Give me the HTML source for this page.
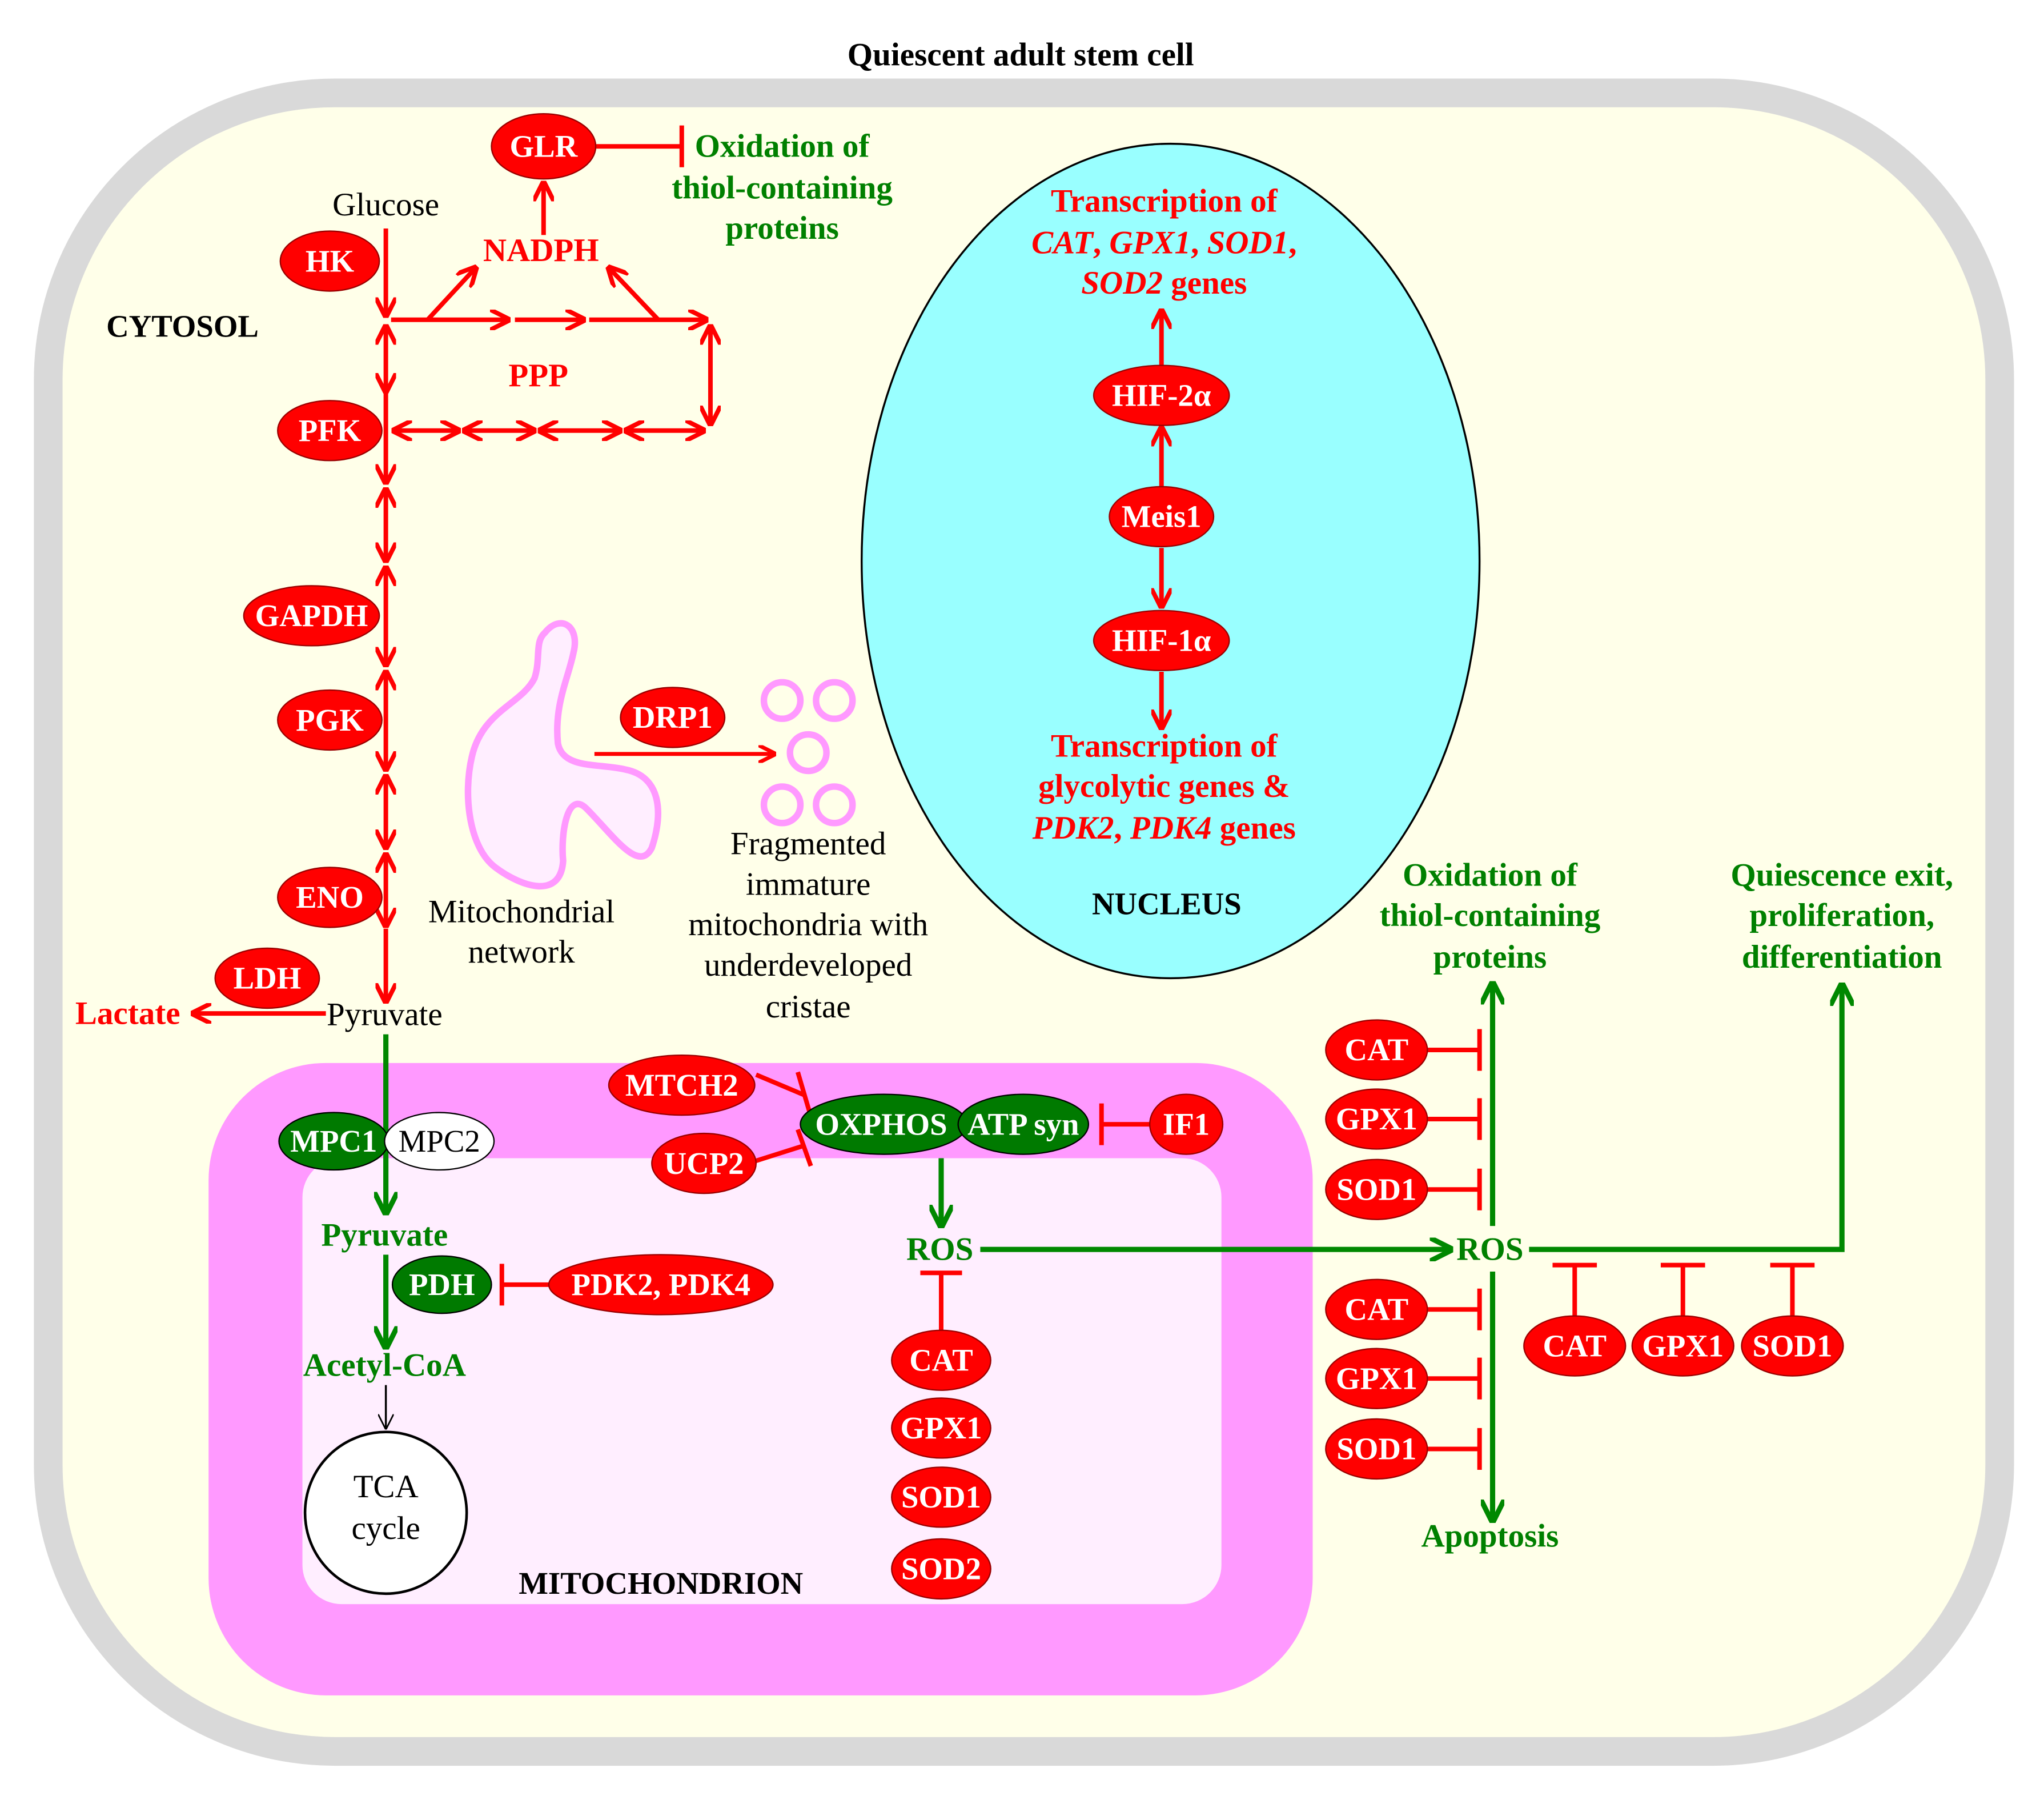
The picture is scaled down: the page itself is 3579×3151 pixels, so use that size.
<!DOCTYPE html>
<html><head><meta charset="utf-8"><style>html,body{margin:0;padding:0;background:#fff}svg{display:block}svg text{font-family:"Liberation Serif","DejaVu Serif",serif}</style></head><body>
<svg width="3579" height="3151" viewBox="0 0 1568 1380" xmlns="http://www.w3.org/2000/svg">
<defs>
<marker id="ar" viewBox="0 0 10 10" refX="9" refY="5" markerWidth="4.5" markerHeight="4.5" orient="auto-start-reverse"><path d="M0,0 L10,5 L0,10" fill="none" stroke="#f00" stroke-width="2.2"/></marker>
<marker id="ag" viewBox="0 0 10 10" refX="9" refY="5" markerWidth="4.5" markerHeight="4.5" orient="auto-start-reverse"><path d="M0,0 L10,5 L0,10" fill="none" stroke="#080" stroke-width="2.2"/></marker>
<marker id="ak" viewBox="0 0 10 10" refX="9" refY="5" markerWidth="8" markerHeight="8" orient="auto"><path d="M0,0 L10,5 L0,10" fill="none" stroke="#000" stroke-width="1"/></marker>
</defs>
<rect width="1568" height="1380" fill="#fff"/>
<text x="783" y="50" font-size="25" font-weight="bold" text-anchor="middle">Quiescent adult stem cell</text>
<rect x="37" y="71" width="1497" height="1272" rx="220" fill="#ffffe9" stroke="#d9d9d9" stroke-width="22"/>
<ellipse cx="898" cy="430" rx="237" ry="320" fill="#99ffff" stroke="#000" stroke-width="1.5"/>
<rect x="160" y="815" width="847" height="485" rx="90" fill="#ff99ff"/>
<rect x="232" y="888" width="705" height="342" rx="30" fill="#ffeeff"/>
<circle cx="296" cy="1160" r="62" fill="#fff" stroke="#000" stroke-width="2"/>
<text x="296" y="1148" font-size="25" text-anchor="middle">TCA</text>
<text x="296" y="1180" font-size="25" text-anchor="middle">cycle</text>
<text x="507" y="1222" font-size="24" font-weight="bold" text-anchor="middle">MITOCHONDRION</text>
<text x="895" y="701" font-size="24" font-weight="bold" text-anchor="middle">NUCLEUS</text>
<text x="140" y="258" font-size="24" font-weight="bold" text-anchor="middle">CYTOSOL</text>

<path d="M418,485 C430,470 445,480 440,500 C436,520 425,540 428,570 C432,590 460,585 480,590 C505,595 510,620 500,650 C490,670 470,640 450,620 C435,605 430,640 432,660 C430,690 400,680 380,665 C360,650 355,610 362,580 C370,545 400,540 410,520 C415,505 410,492 418,485 Z" fill="#ffeeff" stroke="#ff99ff" stroke-width="5"/>
<g fill="none" stroke="#ff99ff" stroke-width="5">
<circle cx="600" cy="537" r="14"/><circle cx="640" cy="537" r="14"/><circle cx="620" cy="577" r="14"/><circle cx="600" cy="617" r="14"/><circle cx="640" cy="617" r="14"/></g>
<g font-size="25" text-anchor="middle">
<text x="400" y="707">Mitochondrial</text><text x="400" y="738">network</text>
<text x="620" y="655">Fragmented</text><text x="620" y="686">immature</text><text x="620" y="717">mitochondria with</text><text x="620" y="748">underdeveloped</text><text x="620" y="780">cristae</text>
<text x="296" y="165">Glucose</text>
<text x="295" y="786">Pyruvate</text>
</g>
<line x1="456" y1="578" x2="594" y2="578" stroke="#f00" stroke-width="3" marker-end="url(#ar)"/>

<g stroke="#f00" stroke-width="3.5" fill="none">
<line x1="296" y1="175" x2="296" y2="242" marker-end="url(#ar)"/>
<line x1="296" y1="250" x2="296" y2="300" marker-start="url(#ar)" marker-end="url(#ar)"/>
<line x1="296" y1="300" x2="296" y2="370" marker-end="url(#ar)"/>
<line x1="296" y1="375" x2="296" y2="430" marker-start="url(#ar)" marker-end="url(#ar)"/>
<line x1="296" y1="435" x2="296" y2="510" marker-start="url(#ar)" marker-end="url(#ar)"/>
<line x1="296" y1="515" x2="296" y2="590" marker-start="url(#ar)" marker-end="url(#ar)"/>
<line x1="296" y1="595" x2="296" y2="650" marker-start="url(#ar)" marker-end="url(#ar)"/>
<line x1="296" y1="655" x2="296" y2="710" marker-start="url(#ar)" marker-end="url(#ar)"/>
<line x1="296" y1="712" x2="296" y2="768" marker-end="url(#ar)"/>
<line x1="250" y1="777" x2="148" y2="777" marker-end="url(#ar)"/>
<line x1="300" y1="245" x2="390" y2="245" marker-end="url(#ar)"/>
<line x1="395" y1="245" x2="448" y2="245" marker-end="url(#ar)"/>
<line x1="452" y1="245" x2="542" y2="245" marker-end="url(#ar)"/>
<line x1="328" y1="245" x2="365" y2="205" marker-end="url(#ar)"/>
<line x1="505" y1="245" x2="467" y2="205" marker-end="url(#ar)"/>
<line x1="545" y1="250" x2="545" y2="325" marker-start="url(#ar)" marker-end="url(#ar)"/>
<line x1="302" y1="330" x2="352" y2="330" marker-start="url(#ar)" marker-end="url(#ar)"/>
<line x1="356" y1="330" x2="410" y2="330" marker-start="url(#ar)" marker-end="url(#ar)"/>
<line x1="414" y1="330" x2="476" y2="330" marker-start="url(#ar)" marker-end="url(#ar)"/>
<line x1="480" y1="330" x2="540" y2="330" marker-start="url(#ar)" marker-end="url(#ar)"/>
<line x1="417" y1="180" x2="417" y2="140" marker-end="url(#ar)"/>
<line x1="457" y1="112" x2="522" y2="112"/><line x1="523" y1="96" x2="523" y2="128"/>
<line x1="891" y1="280" x2="891" y2="238" marker-end="url(#ar)"/>
<line x1="891" y1="373" x2="891" y2="328" marker-end="url(#ar)"/>
<line x1="891" y1="420" x2="891" y2="465" marker-end="url(#ar)"/>
<line x1="891" y1="515" x2="891" y2="558" marker-end="url(#ar)"/>
</g>
<g font-size="25" font-weight="bold" fill="#f00" text-anchor="middle">
<text x="415" y="200">NADPH</text><text x="413" y="296">PPP</text>
<text x="98" y="785">Lactate</text>
<text x="893" y="162">Transcription of</text>
<text x="893" y="194"><tspan font-style="italic">CAT</tspan>, <tspan font-style="italic">GPX1</tspan>, <tspan font-style="italic">SOD1</tspan>,</text>
<text x="893" y="225"><tspan font-style="italic">SOD2</tspan> genes</text>
<text x="893" y="580">Transcription of</text>
<text x="893" y="611">glycolytic genes &amp;</text>
<text x="893" y="643"><tspan font-style="italic">PDK2</tspan>, <tspan font-style="italic">PDK4</tspan> genes</text>
</g>
<g font-size="25" font-weight="bold" fill="#008000" text-anchor="middle">
<text x="600" y="120">Oxidation of</text><text x="600" y="152">thiol-containing</text><text x="600" y="183">proteins</text>
<text x="1143" y="679">Oxidation of</text><text x="1143" y="710">thiol-containing</text><text x="1143" y="742">proteins</text>
<text x="1413" y="679">Quiescence exit,</text><text x="1413" y="710">proliferation,</text><text x="1413" y="742">differentiation</text>
<text x="1143" y="1186">Apoptosis</text>
<text x="295" y="955">Pyruvate</text>
<text x="295" y="1055">Acetyl-CoA</text>
<text x="721" y="966">ROS</text>
<text x="1143" y="966">ROS</text>
</g>
<g stroke="#080" stroke-width="4" fill="none">
<line x1="296" y1="793" x2="296" y2="930" marker-end="url(#ag)"/>
<line x1="296" y1="962" x2="296" y2="1033" marker-end="url(#ag)"/>
<line x1="722" y1="888" x2="722" y2="940" marker-end="url(#ag)"/>
<line x1="752" y1="958" x2="1113" y2="958" marker-end="url(#ag)"/>
<polyline points="1173,958 1413,958 1413,755" marker-end="url(#ag)"/>
<line x1="1145" y1="940" x2="1145" y2="754" marker-end="url(#ag)"/>
<line x1="1145" y1="975" x2="1145" y2="1166" marker-end="url(#ag)"/>
</g>
<line x1="296" y1="1062" x2="296" y2="1095" stroke="#000" stroke-width="1.5" marker-end="url(#ak)"/>
<g stroke="#f00" stroke-width="3.5">
<line x1="580" y1="824" x2="618" y2="840"/><line x1="612" y1="822" x2="622" y2="856"/>
<line x1="580" y1="890" x2="618" y2="878"/><line x1="612" y1="866" x2="622" y2="894"/>
<line x1="882" y1="862" x2="845" y2="862"/><line x1="845" y1="846" x2="845" y2="878"/>
<line x1="422" y1="985" x2="385" y2="985"/><line x1="385" y1="969" x2="385" y2="1001"/>
<line x1="722" y1="1020" x2="722" y2="976"/><line x1="706" y1="976" x2="738" y2="976"/>
<line x1="1094" y1="805" x2="1135" y2="805"/><line x1="1135" y1="789" x2="1135" y2="821"/>
<line x1="1094" y1="858" x2="1135" y2="858"/><line x1="1135" y1="842" x2="1135" y2="874"/>
<line x1="1094" y1="912" x2="1135" y2="912"/><line x1="1135" y1="896" x2="1135" y2="928"/>
<line x1="1094" y1="1004" x2="1135" y2="1004"/><line x1="1135" y1="988" x2="1135" y2="1020"/>
<line x1="1094" y1="1057" x2="1135" y2="1057"/><line x1="1135" y1="1041" x2="1135" y2="1073"/>
<line x1="1094" y1="1111" x2="1135" y2="1111"/><line x1="1135" y1="1095" x2="1135" y2="1127"/>
<line x1="1208" y1="1010" x2="1208" y2="970"/><line x1="1191" y1="970" x2="1225" y2="970"/>
<line x1="1291" y1="1010" x2="1291" y2="970"/><line x1="1274" y1="970" x2="1308" y2="970"/>
<line x1="1375" y1="1010" x2="1375" y2="970"/><line x1="1358" y1="970" x2="1392" y2="970"/>
</g>
<g font-size="24" font-weight="bold" text-anchor="middle">
<g fill="#f00" stroke="#900" stroke-width="1">
<ellipse cx="417" cy="112" rx="40" ry="25"/><ellipse cx="253" cy="200" rx="38" ry="23"/>
<ellipse cx="253" cy="330" rx="40" ry="23"/><ellipse cx="239" cy="472" rx="52" ry="23"/>
<ellipse cx="253" cy="552" rx="40" ry="23"/><ellipse cx="253" cy="688" rx="40" ry="23"/>
<ellipse cx="205" cy="750" rx="40" ry="23"/><ellipse cx="516" cy="550" rx="40" ry="23"/>
<ellipse cx="891" cy="303" rx="52" ry="23"/><ellipse cx="891" cy="396" rx="40" ry="23"/>
<ellipse cx="891" cy="491" rx="52" ry="23"/>
<ellipse cx="523" cy="832" rx="56" ry="23"/><ellipse cx="540" cy="892" rx="40" ry="23"/>
<ellipse cx="910" cy="862" rx="28" ry="23"/><ellipse cx="507" cy="985" rx="86" ry="23"/>
<ellipse cx="722" cy="1043" rx="38" ry="23"/><ellipse cx="722" cy="1095" rx="38" ry="23"/>
<ellipse cx="722" cy="1148" rx="38" ry="23"/><ellipse cx="722" cy="1203" rx="38" ry="23"/>
<ellipse cx="1056" cy="805" rx="39" ry="23"/><ellipse cx="1056" cy="858" rx="39" ry="23"/>
<ellipse cx="1056" cy="912" rx="39" ry="23"/><ellipse cx="1056" cy="1004" rx="39" ry="23"/>
<ellipse cx="1056" cy="1057" rx="39" ry="23"/><ellipse cx="1056" cy="1111" rx="39" ry="23"/>
<ellipse cx="1208" cy="1032" rx="39" ry="23"/><ellipse cx="1291" cy="1032" rx="39" ry="23"/>
<ellipse cx="1375" cy="1032" rx="39" ry="23"/>
</g>
<g fill="#007a00" stroke="#000" stroke-width="1">
<ellipse cx="256" cy="875" rx="42" ry="22"/>
<ellipse cx="678" cy="862" rx="64" ry="23"/><ellipse cx="785" cy="862" rx="50" ry="23"/>
<ellipse cx="339" cy="985" rx="38" ry="22"/>
</g>
<ellipse cx="337" cy="875" rx="42" ry="22" fill="#fff" stroke="#000" stroke-width="1"/>
<g fill="#fff">
<text x="417" y="120">GLR</text><text x="253" y="208">HK</text><text x="253" y="338">PFK</text>
<text x="239" y="480">GAPDH</text><text x="253" y="560">PGK</text><text x="253" y="696">ENO</text>
<text x="205" y="758">LDH</text><text x="516" y="558">DRP1</text>
<text x="891" y="311">HIF-2α</text><text x="891" y="404">Meis1</text><text x="891" y="499">HIF-1α</text>
<text x="523" y="840">MTCH2</text><text x="540" y="900">UCP2</text><text x="910" y="870">IF1</text>
<text x="507" y="993">PDK2, PDK4</text>
<text x="722" y="1051">CAT</text><text x="722" y="1103">GPX1</text><text x="722" y="1156">SOD1</text><text x="722" y="1211">SOD2</text>
<text x="1056" y="813">CAT</text><text x="1056" y="866">GPX1</text><text x="1056" y="920">SOD1</text>
<text x="1056" y="1012">CAT</text><text x="1056" y="1065">GPX1</text><text x="1056" y="1119">SOD1</text>
<text x="1208" y="1040">CAT</text><text x="1291" y="1040">GPX1</text><text x="1375" y="1040">SOD1</text>
<text x="256" y="883">MPC1</text><text x="676" y="870">OXPHOS</text><text x="785" y="870">ATP syn</text>
<text x="339" y="993">PDH</text>
</g>
<text x="337" y="883" font-weight="normal" fill="#000">MPC2</text>
</g>
</svg>
</body></html>
